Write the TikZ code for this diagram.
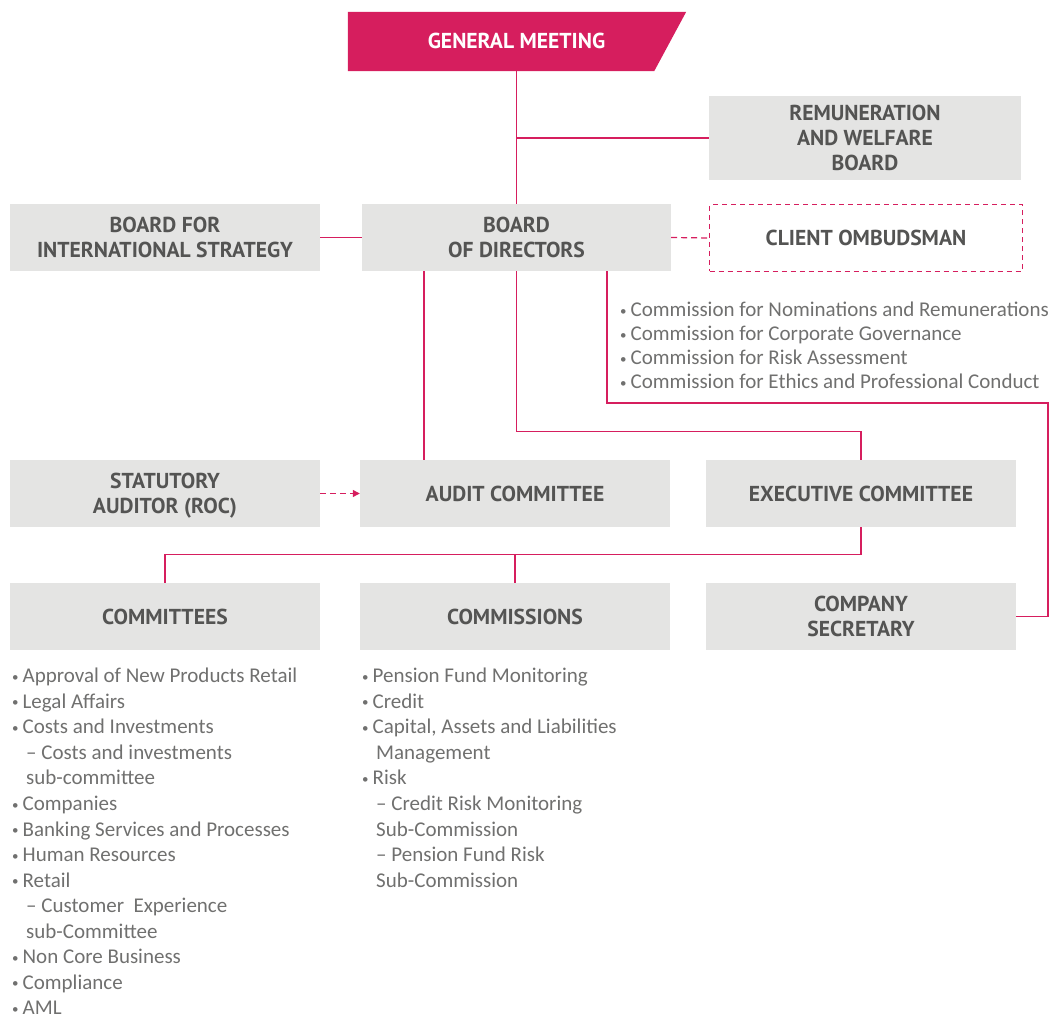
\documentclass[tikz,border=0pt]{standalone}
\usepackage{fontspec}
\setmainfont{Carlito}
\newfontfamily\headfont{PT Sans}
\usetikzlibrary{arrows.meta}

\definecolor{brand}{RGB}{214,30,94}
\definecolor{boxgray}{RGB}{228,228,227}
\definecolor{headgray}{RGB}{84,84,83}
\definecolor{listgray}{RGB}{112,112,111}

\tikzset{
    orgbox/.style = {fill = boxgray, minimum width = 310, minimum height = 67, inner sep = 0,
        align = center, text = headgray, text depth = 0pt,
        font = \headfont\bfseries\fontsize{21.6}{25}\selectfont},
    link/.style = {draw = brand, line width = 1.2pt},
    dotlink/.style = {link, dash pattern = on 6pt off 4pt},
    itemlist/.style = {anchor = north west, inner sep = 0, align = left, text = listgray,
        font = \fontsize{21}{25.55}\selectfont}
}
\newcommand{\bul}{{\fontsize{13}{13}\selectfont\raisebox{1.5pt}{•}}\hspace{4pt}}
\newcommand{\subind}{\hspace*{14pt}}

\begin{document}
\begin{tikzpicture}[x = 1pt, y = -1pt]
    \useasboundingbox (0,0) rectangle (1057,1019);
    % top of the tree
    \node[orgbox, fill = none, minimum width = 337, minimum height = 59, text = white] (gm) at (516.5,41.5) {};
    \fill[brand] (gm.north west) -- ([xshift=1]gm.north east) -- ([xshift=-31]gm.south east) -- (gm.south west) -- cycle;
    \node[orgbox, fill = none, text = white] at ([yshift=1]gm) {GENERAL MEETING};
    \node[orgbox, minimum width = 312, minimum height = 84] (remun) at (865,138) {REMUNERATION\\AND WELFARE\\BOARD};
    % board row
    \node[orgbox] (intl) at (165,237.5) {BOARD FOR\\INTERNATIONAL STRATEGY};
    \node[orgbox, minimum width = 309] (board) at (516.5,237.5) {BOARD\\OF DIRECTORS};
    \node[orgbox, fill = none, draw = brand, dash pattern = on 5pt off 4pt, line width = 1pt,
        minimum width = 313, minimum height = 66] (ombud) at (866,238) {CLIENT OMBUDSMAN};
    \node[itemlist, font = \fontsize{21}{24}\selectfont] (boardlist) at (620,302) {%
        \bul Commission for Nominations and Remunerations\\
        \bul Commission for Corporate Governance\\
        \bul Commission for Risk Assessment\\
        \bul Commission for Ethics and Professional Conduct};
    % middle row
    \node[orgbox] (stat) at (165,493.5) {STATUTORY\\AUDITOR (ROC)};
    \node[orgbox] (audit) at (515,493.5) {AUDIT COMMITTEE};
    \node[orgbox] (exec) at (861,493.5) {EXECUTIVE COMMITTEE};
    % bottom row
    \node[orgbox] (committees) at (165,616.5) {COMMITTEES};
    \node[orgbox] (commissions) at (515,616.5) {COMMISSIONS};
    \node[orgbox] (secretary) at (861,616.5) {COMPANY\\SECRETARY};
    \node[itemlist] (comlist) at (12,668) {%
        \bul Approval of New Products Retail\\
        \bul Legal Affairs\\
        \bul Costs and Investments\\
        \subind – Costs and investments\\
        \subind sub-committee\\
        \bul Companies\\
        \bul Banking Services and Processes\\
        \bul Human Resources\\
        \bul Retail\\
        \subind – Customer\ \ Experience\\
        \subind sub-Committee\\
        \bul Non Core Business\\
        \bul Compliance\\
        \bul AML};
    \node[itemlist] (cmslist) at (362,668) {%
        \bul Pension Fund Monitoring\\
        \bul Credit\\
        \bul Capital, Assets and Liabilities\\
        \subind Management\\
        \bul Risk\\
        \subind – Credit Risk Monitoring\\
        \subind Sub-Commission\\
        \subind – Pension Fund Risk\\
        \subind Sub-Commission};
    % connectors
    \coordinate (secbend) at (1048,403);
    \draw[link] (gm.south) -- (board.north);
    \draw[link] (gm.south |- remun.west) -- (remun.west);
    \draw[link] (intl.east) -- (board.west);
    \draw[dotlink] (board.east) -- (ombud.west);
    \draw[link] ([xshift=90.5]board.south) |- (secbend) |- (secretary.east);
    \draw[link] ([xshift=-92.5]board.south) -- ([xshift=-91]audit.north);
    \draw[link] (board.south) -- ++(0,160) -| (exec.north);
    \draw[link] (exec.south) -- ++(0,27) coordinate (split) -| (committees.north);
    \draw[link] (commissions.north) -- (commissions.north |- split);
    \draw[dotlink, -{Triangle[length=7pt,width=7pt]}] (stat.east) -- (audit.west);
\end{tikzpicture}
\end{document}
